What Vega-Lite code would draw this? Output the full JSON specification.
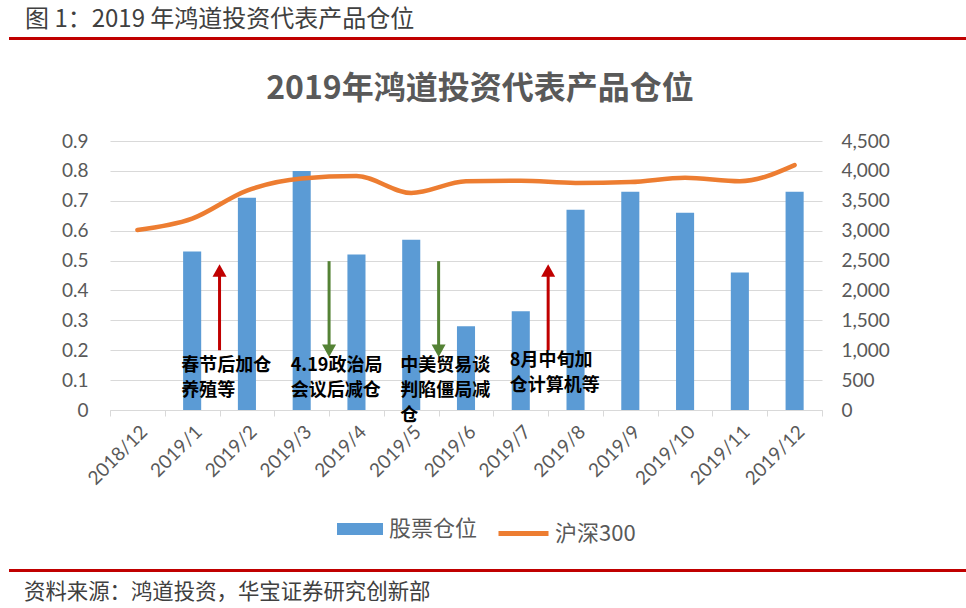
{
  "$schema": "https://vega.github.io/schema/vega-lite/v6.json",
  "padding": {"left": 9, "top": 8, "right": 0, "bottom": 0},
  "background": "white",
  "config": {"view": {"stroke": null}, "font": "Noto Sans CJK SC",
    "legend": {"layout": {"bottom": {"anchor": "middle", "direction": "horizontal", "margin": 18}}}},
  "spacing": 24,
  "resolve": {"legend": {"fill": "independent", "stroke": "independent"}},
  "vconcat": [
    {
      "width": 957,
      "height": 3,
      "title": {"text": "图 1：2019 年鸿道投资代表产品仓位", "anchor": "start", "fontSize": 24, "fontWeight": "normal", "color": "#404040", "offset": 5, "dx": 16},
      "data": {"values": [{}]},
      "mark": {"type": "rect", "color": "#C00000"},
      "encoding": {}
    },
    {
      "spacing": 0,
      "resolve": {"legend": {"fill": "independent", "stroke": "independent"}},
      "hconcat": [
        {
          "width": 1,
          "height": 1,
          "data": {"values": [{}]},
          "mark": {"type": "rect", "opacity": 0},
          "encoding": {}
        },
        {
          "width": 712,
          "height": 269,
          "title": {"text": [" ", "2019年鸿道投资代表产品仓位"], "lineHeight": 9, "fontSize": 32, "fontWeight": "bold", "color": "#595959", "anchor": "middle", "offset": 26, "dx": 14},
          "data": {"values": [
            {"month": "2018/12", "position": null, "csi300": 3011},
            {"month": "2019/1", "position": 0.53, "csi300": 3201},
            {"month": "2019/2", "position": 0.71, "csi300": 3670},
            {"month": "2019/3", "position": 0.80, "csi300": 3872},
            {"month": "2019/4", "position": 0.52, "csi300": 3913},
            {"month": "2019/5", "position": 0.57, "csi300": 3630},
            {"month": "2019/6", "position": 0.28, "csi300": 3825},
            {"month": "2019/7", "position": 0.33, "csi300": 3836},
            {"month": "2019/8", "position": 0.67, "csi300": 3799},
            {"month": "2019/9", "position": 0.73, "csi300": 3814},
            {"month": "2019/10", "position": 0.66, "csi300": 3886},
            {"month": "2019/11", "position": 0.46, "csi300": 3828},
            {"month": "2019/12", "position": 0.73, "csi300": 4097}
          ]},
          "layer": [
            {
              "mark": {"type": "bar", "width": {"band": 0.33}},
              "encoding": {
                "x": {"field": "month", "type": "nominal", "sort": null, "title": null,
                  "scale": {"domain": ["2018/12","2019/1","2019/2","2019/3","2019/4","2019/5","2019/6","2019/7","2019/8","2019/9","2019/10","2019/11","2019/12"], "paddingInner": 0, "paddingOuter": 0},
                  "axis": {"labelAngle": -45, "labelFont": "Lato", "labelFontSize": 19, "labelColor": "#595959", "domainColor": "#D9D9D9", "domainWidth": 1, "tickColor": "#D9D9D9", "tickSize": 6, "tickBand": "extent", "labelPadding": 6, "grid": false}},
                "y": {"field": "position", "type": "quantitative", "title": null,
                  "scale": {"domain": [0, 0.9], "nice": false},
                  "axis": {"values": [0, 0.1, 0.2, 0.3, 0.4, 0.5, 0.6, 0.7, 0.8, 0.9], "tickCount": 10, "format": ".1~f", "grid": true, "gridColor": "#D9D9D9", "domain": false, "ticks": false, "tickSize": 0, "labelFont": "Lato", "labelFontSize": 19, "labelColor": "#595959", "labelPadding": 22, "labelOverlap": false, "minExtent": 100}},
                "fill": {"datum": "股票仓位", "scale": {"domain": ["股票仓位"], "range": ["#5B9BD5"]},
                  "legend": {"orient": "bottom", "direction": "horizontal", "title": " ", "titleOrient": "left", "titleFontSize": 6, "titlePadding": 40, "labelFontSize": 22, "labelColor": "#595959", "symbolType": "M-1,-0.26L1,-0.26L1,0.26L-1,0.26Z", "symbolSize": 2116, "symbolStrokeWidth": 0, "symbolOpacity": 1, "labelOffset": 6, "offset": 17}}
              }
            },
            {
              "mark": {"type": "line", "interpolate": "monotone", "strokeWidth": 4.5, "strokeCap": "round"},
              "encoding": {
                "x": {"field": "month", "type": "nominal", "sort": null, "title": null},
                "y": {"field": "csi300", "type": "quantitative", "title": null,
                  "scale": {"domain": [0, 4500], "nice": false},
                  "axis": {"orient": "right", "values": [0, 500, 1000, 1500, 2000, 2500, 3000, 3500, 4000, 4500], "format": ",d", "grid": false, "domain": false, "ticks": false, "tickSize": 0, "labelFont": "Lato", "labelFontSize": 19, "labelColor": "#595959", "labelPadding": 19, "labelOverlap": false}},
                "stroke": {"datum": "沪深300", "scale": {"domain": ["沪深300"], "range": ["#ED7D31"]},
                  "legend": {"orient": "bottom", "direction": "horizontal", "title": null, "labelFontSize": 22, "labelColor": "#595959", "symbolType": "stroke", "symbolSize": 2500, "symbolStrokeWidth": 5, "labelOffset": 4, "offset": 17}}
              }
            },
            {
              "data": {"values": [
                {"month": "2019/1", "from": 0.2, "to": 0.488, "dir": "up"},
                {"month": "2019/3", "from": 0.498, "to": 0.177, "dir": "down"},
                {"month": "2019/5", "from": 0.498, "to": 0.177, "dir": "down"},
                {"month": "2019/7", "from": 0.2, "to": 0.488, "dir": "up"}
              ]},
              "transform": [{"filter": "datum.dir === 'up'"}],
              "mark": {"type": "rule", "strokeWidth": 3, "color": "#C00000", "y2Offset": 8},
              "encoding": {
                "x": {"field": "month", "type": "nominal", "sort": null, "bandPosition": 1, "title": null},
                "y": {"field": "from", "type": "quantitative", "title": null, "scale": {"domain": [0, 0.9], "nice": false}, "axis": null},
                "y2": {"field": "to"}
              }
            },
            {
              "data": {"values": [
                {"month": "2019/1", "from": 0.2, "to": 0.488, "dir": "up"},
                {"month": "2019/3", "from": 0.498, "to": 0.177, "dir": "down"},
                {"month": "2019/5", "from": 0.498, "to": 0.177, "dir": "down"},
                {"month": "2019/7", "from": 0.2, "to": 0.488, "dir": "up"}
              ]},
              "transform": [{"filter": "datum.dir === 'down'"}],
              "mark": {"type": "rule", "strokeWidth": 3, "color": "#548235", "y2Offset": -8},
              "encoding": {
                "x": {"field": "month", "type": "nominal", "sort": null, "bandPosition": 1, "title": null},
                "y": {"field": "from", "type": "quantitative", "title": null, "scale": {"domain": [0, 0.9], "nice": false}, "axis": null},
                "y2": {"field": "to"}
              }
            },
            {
              "data": {"values": [
                {"month": "2019/1", "from": 0.2, "to": 0.488, "dir": "up"},
                {"month": "2019/3", "from": 0.498, "to": 0.177, "dir": "down"},
                {"month": "2019/5", "from": 0.498, "to": 0.177, "dir": "down"},
                {"month": "2019/7", "from": 0.2, "to": 0.488, "dir": "up"}
              ]},
              "transform": [{"filter": "datum.dir === 'up'"}],
              "mark": {"type": "point", "filled": true, "size": 196, "opacity": 1, "strokeWidth": 0, "color": "#C00000", "shape": "M0,0L-1,1.8L1,1.8Z"},
              "encoding": {
                "x": {"field": "month", "type": "nominal", "sort": null, "bandPosition": 1, "title": null},
                "y": {"field": "to", "type": "quantitative", "title": null, "scale": {"domain": [0, 0.9], "nice": false}, "axis": null}
              }
            },
            {
              "data": {"values": [
                {"month": "2019/1", "from": 0.2, "to": 0.488, "dir": "up"},
                {"month": "2019/3", "from": 0.498, "to": 0.177, "dir": "down"},
                {"month": "2019/5", "from": 0.498, "to": 0.177, "dir": "down"},
                {"month": "2019/7", "from": 0.2, "to": 0.488, "dir": "up"}
              ]},
              "transform": [{"filter": "datum.dir === 'down'"}],
              "mark": {"type": "point", "filled": true, "size": 196, "opacity": 1, "strokeWidth": 0, "color": "#548235", "shape": "M0,0L-1,-1.8L1,-1.8Z"},
              "encoding": {
                "x": {"field": "month", "type": "nominal", "sort": null, "bandPosition": 1, "title": null},
                "y": {"field": "to", "type": "quantitative", "title": null, "scale": {"domain": [0, 0.9], "nice": false}, "axis": null}
              }
            },
            {
              "data": {"values": [
                {"month": "2019/1", "label": "春节后加仓\n养殖等", "y": 0.177},
                {"month": "2019/3", "label": "4.19政治局\n会议后减仓", "y": 0.177},
                {"month": "2019/5", "label": "中美贸易谈\n判陷僵局减\n仓", "y": 0.177},
                {"month": "2019/7", "label": "8月中旬加\n仓计算机等", "y": 0.194}
              ]},
              "mark": {"type": "text", "align": "left", "baseline": "top", "fontSize": 18, "fontWeight": "bold", "lineBreak": "\n", "lineHeight": 25, "color": "#000000"},
              "encoding": {
                "x": {"field": "month", "type": "nominal", "sort": null, "bandPosition": 0.3, "title": null},
                "y": {"field": "y", "type": "quantitative", "title": null, "scale": {"domain": [0, 0.9], "nice": false}, "axis": null},
                "text": {"field": "label"}
              }
            }
          ],
          "resolve": {"scale": {"y": "independent"}}
        }
      ]
    },
    {
      "width": 957,
      "height": 3,
      "title": {"text": "资料来源：鸿道投资，华宝证券研究创新部", "orient": "bottom", "anchor": "start", "fontSize": 21.4, "fontWeight": "normal", "color": "#404040", "offset": 10, "dx": 15},
      "data": {"values": [{}]},
      "mark": {"type": "rect", "color": "#C00000"},
      "encoding": {}
    }
  ]
}
